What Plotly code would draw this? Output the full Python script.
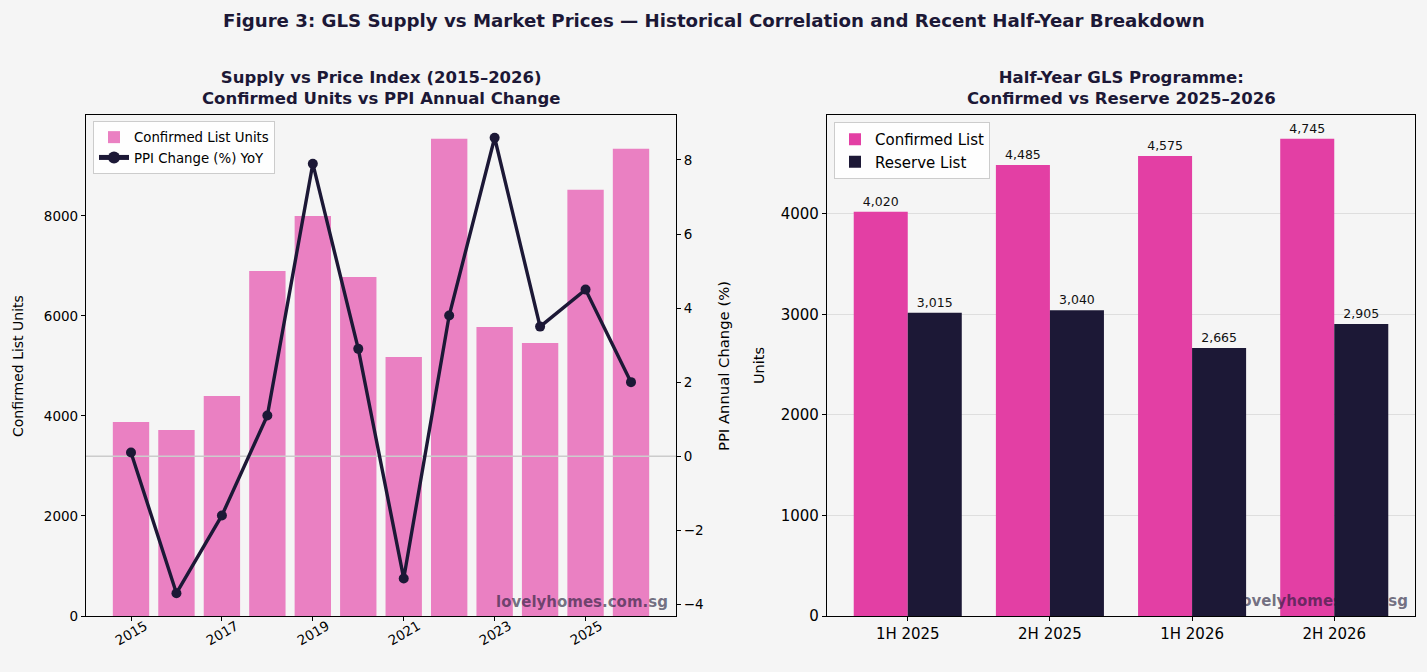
import plotly.graph_objects as go

# ---------------- data ----------------
years = list(range(2015, 2027))
confirmed_units = [3880, 3720, 4400, 6900, 8000, 6780, 5180, 9540, 5780, 5460, 8520, 9340]
ppi_change = [0.1, -3.7, -1.6, 1.1, 7.9, 2.9, -3.3, 3.8, 8.6, 3.5, 4.5, 2.0]
year_ticks = years[::2]

half_labels = ["1H 2025", "2H 2025", "1H 2026", "2H 2026"]
half_confirmed = [4020, 4485, 4575, 4745]
half_reserve = [3015, 3040, 2665, 2905]

# ---------------- style ----------------
W, H = 1427, 672
BG = "#f5f5f5"
NAVY = "#1c1836"
PINK_LIGHT = "#ea80c2"
PINK = "#e33fa4"
FONT = "DejaVu Sans"
WM_COLOR = "rgba(28,24,54,0.62)"


def px_x(p):
    return p / W


def px_y(p):
    return 1 - p / H


# ranges in the style of matplotlib auto-margins
bw = 0.8
xl0 = years[0] - bw / 2
xl1 = years[-1] + bw / 2
xm = 0.05 * (xl1 - xl0)
xrange_left = [xl0 - xm, xl1 + xm]
yrange_left = [0, max(confirmed_units) * 1.05]
p0, p1 = min(ppi_change), max(ppi_change)
pm = 0.05 * (p1 - p0)
yrange_ppi = [p0 - pm, p1 + pm]

hw = 0.38
xr0 = 0 - hw
xr1 = len(half_labels) - 1 + hw
xrm = 0.05 * (xr1 - xr0)
xrange_right = [xr0 - xrm, xr1 + xrm]
yrange_right = [0, max(half_confirmed) * 1.05]

fig = go.Figure()

# left: bars
fig.add_trace(go.Bar(
    x=years, y=confirmed_units, width=bw, marker=dict(color=PINK_LIGHT, line=dict(width=0)),
    name="Confirmed List Units", xaxis="x", yaxis="y", legend="legend",
))
# zero reference on PPI axis
fig.add_trace(go.Scatter(
    x=xrange_left, y=[0, 0], mode="lines", line=dict(color="#cccccc", width=1.5),
    showlegend=False, hoverinfo="skip", xaxis="x", yaxis="y2",
))
# PPI line
fig.add_trace(go.Scatter(
    x=years, y=ppi_change, mode="lines+markers", name="PPI Change (%) YoY",
    line=dict(color=NAVY, width=3.4), marker=dict(color=NAVY, size=10),
    xaxis="x", yaxis="y2", legend="legend",
))

# right: confirmed bars
xpos = list(range(len(half_labels)))
fig.add_trace(go.Bar(
    x=xpos, y=half_confirmed, width=hw, offset=-hw,
    marker=dict(color=PINK, line=dict(width=0)), name="Confirmed List",
    text=[f"{v:,}" for v in half_confirmed], textposition="outside",
    textfont=dict(size=12.5, color="#111111", family=FONT), cliponaxis=False,
    constraintext="none", xaxis="x3", yaxis="y3", legend="legend2",
))
# watermark between layers (under the reserve bars)
fig.add_trace(go.Scatter(
    x=[xrange_right[1] - 0.012 * (xrange_right[1] - xrange_right[0])],
    y=[yrange_right[0] + 0.028 * (yrange_right[1] - yrange_right[0])],
    mode="text", text=["<b>lovelyhomes.com.sg</b>"], textposition="middle left",
    textfont=dict(size=15, color=WM_COLOR, family=FONT),
    showlegend=False, hoverinfo="skip", xaxis="x3", yaxis="y3",
))
# reserve bars (on an overlay axis so they sit above the watermark)
fig.add_trace(go.Bar(
    x=xpos, y=half_reserve, width=hw, offset=0,
    marker=dict(color=NAVY, line=dict(width=0)), name="Reserve List",
    text=[f"{v:,}" for v in half_reserve], textposition="outside",
    textfont=dict(size=12.5, color="#111111", family=FONT), cliponaxis=False,
    constraintext="none", xaxis="x3", yaxis="y4", legend="legend2",
))


def axis_common(size):
    return dict(
        showline=True, linecolor="black", linewidth=1.2, ticks="outside", ticklen=4,
        tickcolor="black", tickfont=dict(size=size, color="black", family=FONT),
        zeroline=False, automargin=False,
    )


dom_y = [px_y(616), px_y(115)]

fig.update_layout(
    width=W, height=H,
    margin=dict(l=0, r=0, t=0, b=0, pad=0),
    paper_bgcolor=BG, plot_bgcolor=BG,
    font=dict(family=FONT, color="black"),
    barmode="overlay",
    xaxis=dict(
        **axis_common(13.5), domain=[px_x(86), px_x(676)], range=xrange_left,
        tickvals=year_ticks, showticklabels=False,
        mirror=True, showgrid=False, anchor="y",
    ),
    yaxis=dict(
        **axis_common(13.5), domain=dom_y, range=yrange_left,
        tickvals=[0, 2000, 4000, 6000, 8000], mirror=True, showgrid=False, anchor="x",
    ),
    yaxis2=dict(
        **axis_common(13.5), overlaying="y", side="right", range=yrange_ppi,
        tickvals=[-4, -2, 0, 2, 4, 6, 8], showgrid=False, anchor="x",
    ),
    xaxis3=dict(
        **axis_common(15), domain=[px_x(827), px_x(1415)], range=xrange_right,
        tickvals=xpos, ticktext=half_labels, mirror=True, showgrid=False, anchor="y3",
    ),
    yaxis3=dict(
        **axis_common(15), domain=dom_y, range=yrange_right,
        tickvals=[0, 1000, 2000, 3000, 4000], mirror=True,
        showgrid=True, gridcolor="#dedede", gridwidth=1, anchor="x3",
    ),
    yaxis4=dict(
        overlaying="y3", range=yrange_right, visible=False, anchor="x3", automargin=False,
    ),
    legend=dict(
        x=px_x(93), y=px_y(121), xanchor="left", yanchor="top",
        bgcolor="rgba(255,255,255,0.85)", bordercolor="#cccccc", borderwidth=1,
        font=dict(size=13.3, family=FONT, color="black"), tracegroupgap=0,
        itemsizing="constant",
    ),
    legend2=dict(
        x=px_x(834), y=px_y(122), xanchor="left", yanchor="top",
        bgcolor="rgba(255,255,255,0.85)", bordercolor="#cccccc", borderwidth=1,
        font=dict(size=15, family=FONT, color="black"), tracegroupgap=0,
    ),
    showlegend=True,
)

annotations = [
    dict(text="<b>Figure 3: GLS Supply vs Market Prices — Historical Correlation and Recent Half-Year Breakdown</b>",
         x=0.5, y=px_y(20), xref="paper", yref="paper", showarrow=False,
         font=dict(size=18.2, color=NAVY, family=FONT), xanchor="center", yanchor="middle"),
    dict(text="<b>Supply vs Price Index (2015–2026)<br>Confirmed Units vs PPI Annual Change</b>",
         x=px_x(381), y=px_y(88), xref="paper", yref="paper", showarrow=False,
         font=dict(size=16.5, color=NAVY, family=FONT), xanchor="center", yanchor="middle"),
    dict(text="<b>Half-Year GLS Programme:<br>Confirmed vs Reserve 2025–2026</b>",
         x=px_x(1121), y=px_y(88), xref="paper", yref="paper", showarrow=False,
         font=dict(size=16.5, color=NAVY, family=FONT), xanchor="center", yanchor="middle"),
    dict(text="Confirmed List Units", textangle=-90,
         x=px_x(18), y=px_y(366), xref="paper", yref="paper", showarrow=False,
         font=dict(size=14, color="black", family=FONT), xanchor="center", yanchor="middle"),
    dict(text="PPI Annual Change (%)", textangle=-90,
         x=px_x(724), y=px_y(366), xref="paper", yref="paper", showarrow=False,
         font=dict(size=14.8, color="black", family=FONT), xanchor="center", yanchor="middle"),
    dict(text="Units", textangle=-90,
         x=px_x(759), y=px_y(366), xref="paper", yref="paper", showarrow=False,
         font=dict(size=14.5, color="black", family=FONT), xanchor="center", yanchor="middle"),
    dict(text="<b>lovelyhomes.com.sg</b>",
         x=px_x(670), y=px_y(602), xref="paper", yref="paper", showarrow=False,
         font=dict(size=15, color=WM_COLOR, family=FONT),
         xanchor="right", yanchor="middle"),
]
# rotated year tick labels, centred on their ticks (matplotlib style)
for yv in year_ticks:
    annotations.append(dict(
        text=str(yv), textangle=-30, x=yv, xref="x", y=px_y(633), yref="paper",
        showarrow=False, xanchor="center", yanchor="middle",
        font=dict(size=13.5, color="black", family=FONT),
    ))
fig.update_layout(annotations=annotations)

fig.write_html("out.html")
